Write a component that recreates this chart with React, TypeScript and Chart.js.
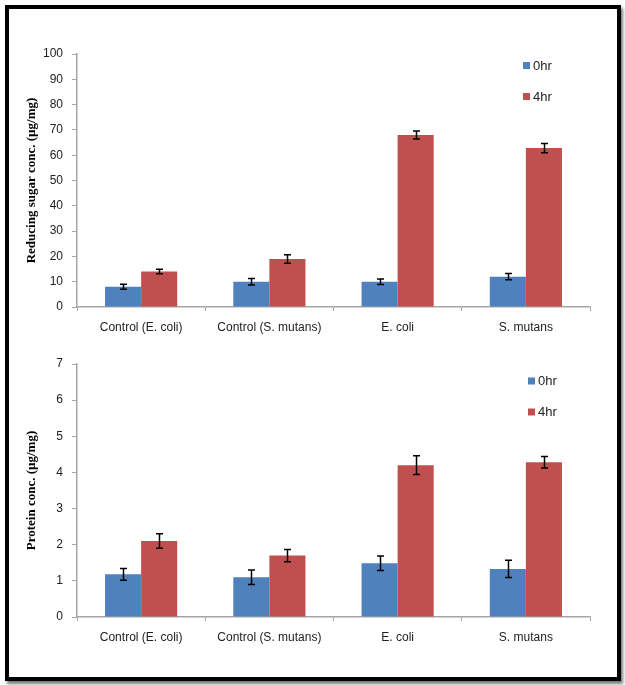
import React, { useEffect, useRef } from "react";
import { Chart, registerables } from "chart.js";

Chart.register(...registerables);

const categories = ["Control (E. coli)", "Control (S. mutans)", "E. coli", "S. mutans"];
const seriesNames = ["0hr", "4hr"];

const sugar0hr = [8, 10, 10, 12];
const sugar4hr = [14, 19, 68, 62.8];
const sugarErr0hr = [1.0, 1.3, 1.1, 1.2];
const sugarErr4hr = [0.9, 1.7, 1.6, 1.8];
const sugarTicks = { min: 0, max: 100, step: 10 };

const protein0hr = [1.18, 1.1, 1.49, 1.33];
const protein4hr = [2.1, 1.7, 4.2, 4.28];
const proteinErr0hr = [0.16, 0.2, 0.2, 0.24];
const proteinErr4hr = [0.2, 0.17, 0.26, 0.16];
const proteinTicks = { min: 0, max: 7, step: 1 };

const COLORS = ["#4F81BD", "#C0504D"];

const errorBarPlugin = {
  id: "errorBars",
  afterDatasetsDraw(chart: any, _args: any, opts: any) {
    const ctx = chart.ctx;
    const y = chart.scales.y;
    const errs: number[][] = opts.errors || [];
    ctx.save();
    ctx.strokeStyle = "#000";
    ctx.lineWidth = 1.5;
    chart.data.datasets.forEach((ds: any, di: number) => {
      const meta = chart.getDatasetMeta(di);
      meta.data.forEach((bar: any, i: number) => {
        const v = ds.data[i];
        const e = errs[di] ? errs[di][i] : 0;
        const x = Math.round(bar.x) + 0.5;
        const yt = y.getPixelForValue(v + e);
        const yb = y.getPixelForValue(v - e);
        ctx.beginPath();
        ctx.moveTo(x, yt);
        ctx.lineTo(x, yb);
        ctx.moveTo(x - 3.5, yt);
        ctx.lineTo(x + 3.5, yt);
        ctx.moveTo(x - 3.5, yb);
        ctx.lineTo(x + 3.5, yb);
        ctx.stroke();
      });
    });
    ctx.restore();
  },
};

const legendPlugin = {
  id: "customLegend",
  afterDraw(chart: any, _args: any, opts: any) {
    const ctx = chart.ctx;
    const { x, y, gap } = opts;
    ctx.save();
    ctx.font = "13px 'Liberation Sans', Arial, sans-serif";
    ctx.textBaseline = "middle";
    ctx.textAlign = "left";
    chart.data.datasets.forEach((ds: any, i: number) => {
      const cy = y + i * gap;
      ctx.fillStyle = ds.backgroundColor;
      ctx.fillRect(x, cy - 3.5, 7, 7);
      ctx.fillStyle = "#222";
      ctx.fillText(ds.label, x + 10, cy + 0.5);
    });
    ctx.restore();
  },
};

function BarChart(props: {
  d0: number[];
  d1: number[];
  e0: number[];
  e1: number[];
  ticks: { min: number; max: number; step: number };
  title: string;
  legendX: number;
  legendY: number;
}) {
  const ref = useRef<HTMLCanvasElement>(null);
  useEffect(() => {
    if (!ref.current) return;
    const tickFont = { family: "'Liberation Sans', Arial, sans-serif", size: 12 };
    const chart = new Chart(ref.current, {
      type: "bar",
      data: {
        labels: categories,
        datasets: [
          { label: seriesNames[0], data: props.d0, backgroundColor: COLORS[0], borderWidth: 0 },
          { label: seriesNames[1], data: props.d1, backgroundColor: COLORS[1], borderWidth: 0 },
        ],
      },
      options: {
        animation: false,
        responsive: false,
        devicePixelRatio: 1,
        layout: { padding: { top: 24, right: 20, left: 0, bottom: 3 } },
        datasets: { bar: { categoryPercentage: 0.5625, barPercentage: 1 } },
        plugins: {
          legend: { display: false },
          tooltip: { enabled: false },
          errorBars: { errors: [props.e0, props.e1] },
          customLegend: { x: props.legendX, y: props.legendY, gap: 31 },
        } as any,
        scales: {
          x: {
            offset: true,
            grid: {
              offset: true,
              drawOnChartArea: false,
              drawTicks: true,
              tickLength: 4,
              color: "#A6A6A6",
            },
            border: { color: "#A6A6A6", width: 1.5 },
            ticks: { color: "#222", font: tickFont, padding: 9, maxRotation: 0, autoSkip: false },
            afterFit: (s: any) => {
              s.height = 30;
            },
          },
          y: {
            min: props.ticks.min,
            max: props.ticks.max,
            grid: {
              drawOnChartArea: false,
              drawTicks: true,
              tickLength: 5,
              color: "#A6A6A6",
            },
            border: { color: "#A6A6A6", width: 1.5 },
            ticks: { stepSize: props.ticks.step, color: "#222", font: tickFont, padding: 9 },
            title: {
              display: true,
              text: props.title,
              color: "#000",
              font: { family: "'Liberation Serif', 'Times New Roman', serif", size: 13, weight: "bold" },
              padding: { top: 14, bottom: 0 },
            },
            afterFit: (s: any) => {
              s.width = 67;
            },
          },
        },
      },
      plugins: [errorBarPlugin, legendPlugin],
    });
    return () => chart.destroy();
  }, []);
  return <canvas ref={ref} width={600} height={310} style={{ display: "block", width: 600, height: 310 }} />;
}

export default function App() {
  return (
    <div style={{ position: "fixed", left: 0, top: 0, width: 625, height: 685, background: "#fff" }}>
      <div
        style={{
          position: "absolute",
          left: 5,
          top: 5,
          width: 608,
          height: 668,
          border: "4px solid #000",
          boxShadow: "2px 3px 3px #777",
          background: "#fff",
        }}
      />
      <div style={{ position: "absolute", left: 10, top: 30 }}>
        <BarChart
          d0={sugar0hr}
          d1={sugar4hr}
          e0={sugarErr0hr}
          e1={sugarErr4hr}
          ticks={sugarTicks}
          title="Reducing sugar conc. (µg/mg)"
          legendX={513}
          legendY={35.5}
        />
      </div>
      <div style={{ position: "absolute", left: 10, top: 340 }}>
        <BarChart
          d0={protein0hr}
          d1={protein4hr}
          e0={proteinErr0hr}
          e1={proteinErr4hr}
          ticks={proteinTicks}
          title="Protein conc. (µg/mg)"
          legendX={518}
          legendY={41}
        />
      </div>
    </div>
  );
}
